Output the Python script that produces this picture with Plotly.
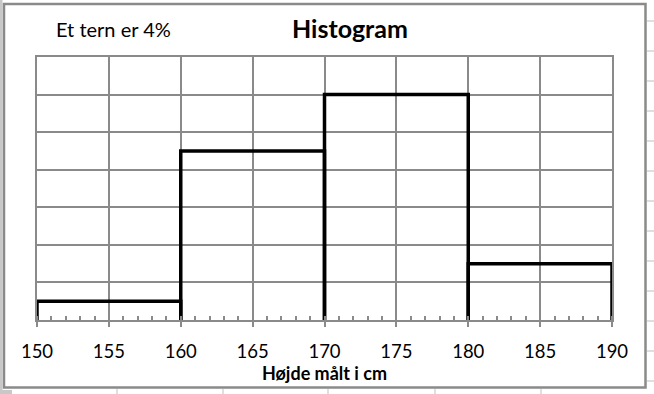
import plotly.graph_objects as go

# Data
bin_edges = [150, 160, 170, 180, 190]
percent = [4, 36, 48, 12]          # share of heights in each bin (%)
square_pct = 4                     # "Et tern er 4%"
x_ticks = [150, 155, 160, 165, 170, 175, 180, 185, 190]

# density in % per cm
widths = [bin_edges[i + 1] - bin_edges[i] for i in range(len(percent))]
density = [p / w for p, w in zip(percent, widths)]
y_step = square_pct / 5            # one grid square = 5 cm wide
y_max = y_step * 7

xs, ys = [], []
for i, h in enumerate(density):
    lo, hi = bin_edges[i], bin_edges[i + 1]
    xs += [lo, lo, hi, hi, None]
    ys += [0, h, h, 0, None]

W, H = 654, 394
L, R, T, B = 37, 42, 57, 74
pw, ph = W - L - R, H - T - B

def px(x):
    return (x - L) / pw

def py(y):
    return (H - B - y) / ph

fig = go.Figure()
fig.add_trace(go.Scatter(x=xs, y=ys, mode="lines",
                         line=dict(color="black", width=3.5),
                         hoverinfo="skip", showlegend=False, cliponaxis=False))

GRID = "#8a8a8a"
fig.update_xaxes(range=[150, 190], tickvals=x_ticks, ticks="outside", ticklen=5,
                 tickwidth=2, tickcolor=GRID, ticklabelstandoff=9,
                 showgrid=True, gridcolor=GRID, gridwidth=2,
                 showline=True, linecolor=GRID, linewidth=2, mirror=True,
                 zeroline=False,
                 minor=dict(dtick=1, ticks="inside", ticklen=4, tickwidth=1.5,
                            tickcolor=GRID, showgrid=False),
                 tickfont=dict(family="Lato", size=18.5, color="black"),
                 title=dict(text="<b>Højde målt i cm</b>", standoff=4,
                            font=dict(family="Lato", size=18, color="black")))
fig.update_yaxes(range=[0, y_max], dtick=y_step, tick0=0, showticklabels=False,
                 ticks="", showgrid=True, gridcolor=GRID, gridwidth=1.5,
                 showline=True, linecolor=GRID, linewidth=2, mirror=True,
                 zeroline=False)

shapes = []
# spreadsheet cell lines around the chart
LIGHT = "#d4d4d4"
shapes.append(dict(type="rect", xref="paper", yref="paper",
                   x0=px(0), x1=px(2.5), y0=py(394), y1=py(0),
                   fillcolor="#c8c8c8", line=dict(width=0), layer="below"))
for yy in range(21, 394, 30):
    shapes.append(dict(type="line", xref="paper", yref="paper",
                       x0=px(647), x1=px(654), y0=py(yy), y1=py(yy),
                       line=dict(color=LIGHT, width=1.5), layer="below"))
for xx in [117, 223, 328, 435, 541]:
    shapes.append(dict(type="line", xref="paper", yref="paper",
                       x0=px(xx), x1=px(xx), y0=py(389), y1=py(394),
                       line=dict(color=LIGHT, width=1.5), layer="below"))
shapes.append(dict(type="rect", xref="paper", yref="paper",
                   x0=px(0), x1=px(12), y0=py(394), y1=py(390),
                   fillcolor="#c8c8c8", line=dict(width=0), layer="below"))
# chart frame
shapes.append(dict(type="rect", xref="paper", yref="paper",
                   x0=px(4), x1=px(645.5), y0=py(387.5), y1=py(4),
                   line=dict(color="#8a8a8a", width=2.5), layer="below"))

fig.update_layout(
    width=W, height=H,
    margin=dict(l=L, r=R, t=T, b=B),
    paper_bgcolor="white", plot_bgcolor="white",
    shapes=shapes,
    annotations=[
        dict(text="<b>Histogram</b>", xref="paper", yref="paper",
             x=px(350), y=py(28), xanchor="center", yanchor="middle",
             showarrow=False, font=dict(family="Lato", size=25, color="black")),
        dict(text=f"Et tern er {square_pct}%", xref="paper", yref="paper",
             x=px(54), y=py(29), xanchor="left", yanchor="middle",
             showarrow=False, font=dict(family="Lato", size=20, color="black")),
    ],
)

fig.write_html("out.html")
